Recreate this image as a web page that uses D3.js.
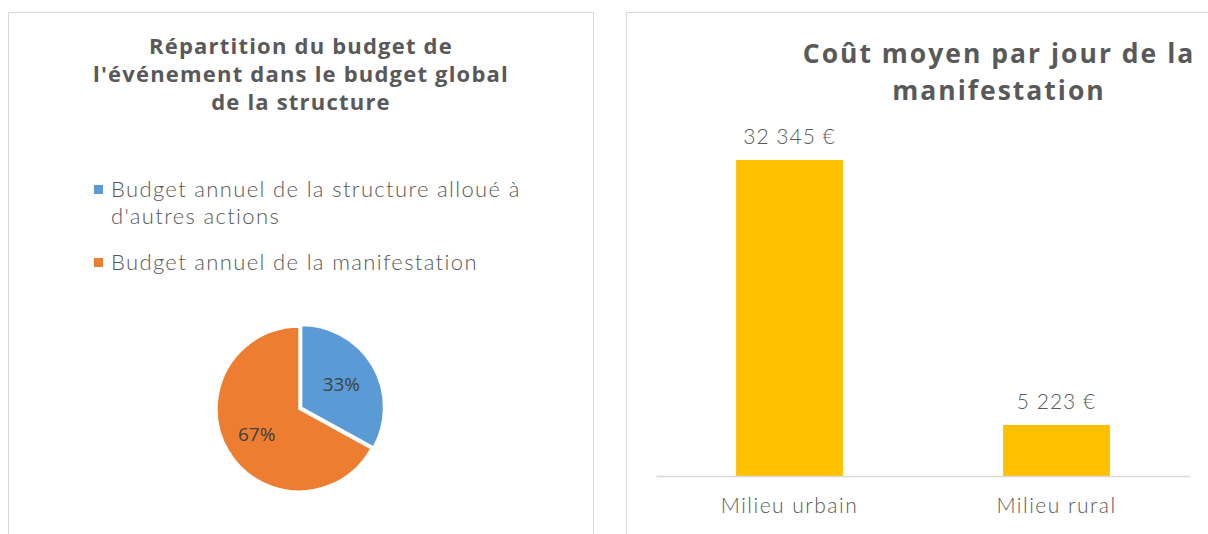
<!DOCTYPE html>
<html>
<head>
<meta charset="utf-8">
<script src="https://cdn.jsdelivr.net/npm/d3@7"></script>
<style>
  body { margin: 0; background: #fff; }
  svg { display: block; }
</style>
</head>
<body>
<svg id="chart" width="1208" height="534"></svg>
<script>
// données camembert
const pieLabels = ["Budget annuel de la structure alloué à d'autres actions", "Budget annuel de la manifestation"];
const pieValues = [33, 67];
const pieColors = ["#5b9bd5", "#ed7d31"];

// données histogramme
const barCategories = ["Milieu urbain", "Milieu rural"];
const barValues = [32345, 5223];
const barLabels = ["32 345 €", "5 223 €"];

const svg = d3.select("#chart");
const grey = "#595959";
const titleFont = "'Open Sans', sans-serif";
const lightFont = "Lato, sans-serif";

// cadres
svg.append("rect").attr("x", 8.5).attr("y", 12.5).attr("width", 585).attr("height", 540)
  .attr("fill", "none").attr("stroke", "#d9d9d9");
svg.append("rect").attr("x", 626.5).attr("y", 12.5).attr("width", 600).attr("height", 540)
  .attr("fill", "none").attr("stroke", "#d9d9d9");

// ---- panneau gauche ----
const left = svg.append("g");
const t1 = ["Répartition du budget de", "l'événement dans le budget global", "de la structure"];
left.selectAll("text.title").data(t1).join("text")
  .attr("class", "title")
  .attr("x", 301).attr("y", (d, i) => 54 + i * 28)
  .attr("text-anchor", "middle")
  .style("font-family", titleFont).style("font-weight", 700)
  .style("font-size", "22px").style("letter-spacing", "1.2px").style("fill", grey)
  .text(d => d);

// légende
const legendLines = [["Budget annuel de la structure alloué à", "d'autres actions"], ["Budget annuel de la manifestation"]];
const legendY = [197, 270];
legendLines.forEach((lines, i) => {
  left.append("rect").attr("x", 94).attr("y", legendY[i] - 12).attr("width", 9).attr("height", 9)
    .attr("fill", pieColors[i]);
  lines.forEach((l, j) => {
    left.append("text").attr("x", 111).attr("y", legendY[i] + j * 27)
      .style("font-family", lightFont).style("font-weight", 300)
      .style("font-size", "22px").style("letter-spacing", "1.35px").style("fill", grey)
      .text(l);
  });
});

// camembert
const pie = d3.pie().sort(null).value(d => d)(pieValues);
const R = 82;
const arc = d3.arc().innerRadius(0).outerRadius(R);
const pg = left.append("g").attr("transform", "translate(299,409)");
pg.selectAll("path").data(pie).join("path")
  .attr("transform", (d, i) => {
    if (i !== 0) return null;
    const c = arc.centroid(d), k = 3 / Math.hypot(c[0], c[1]);
    return `translate(${c[0] * k},${c[1] * k})`;
  })
  .attr("d", arc)
  .attr("fill", (d, i) => pieColors[i])
  .attr("stroke", "#fff").attr("stroke-width", 1.5);

const labelArc = d3.arc().innerRadius(R * 0.6).outerRadius(R * 0.6);
pg.selectAll("text").data(pie).join("text")
  .attr("transform", d => `translate(${labelArc.centroid(d)})`)
  .attr("text-anchor", "middle").attr("dy", "0.35em")
  .style("font-family", "'Open Sans', sans-serif").style("font-size", "19px")
  .style("fill", "#404040")
  .text(d => d.data + "%");

// ---- panneau droit ----
const right = svg.append("g");
const t2 = ["Coût moyen par jour de la", "manifestation"];
right.selectAll("text.title").data(t2).join("text")
  .attr("class", "title")
  .attr("x", 999).attr("y", (d, i) => 63 + i * 36.5)
  .attr("text-anchor", "middle")
  .style("font-family", titleFont).style("font-weight", 700)
  .style("font-size", "26.5px").style("letter-spacing", "2px").style("fill", grey)
  .text(d => d);

const x = d3.scaleBand().domain(barCategories).range([656, 1190]).paddingInner(0.6).paddingOuter(0.3);
const y = d3.scaleLinear().domain([0, 35000]).range([476, 134]);

right.selectAll("rect.bar").data(barValues).join("rect")
  .attr("class", "bar")
  .attr("x", (d, i) => x(barCategories[i]))
  .attr("width", x.bandwidth())
  .attr("y", d => y(d))
  .attr("height", d => y(0) - y(d))
  .attr("fill", "#ffc000");

right.selectAll("text.val").data(barValues).join("text")
  .attr("class", "val")
  .attr("x", (d, i) => x(barCategories[i]) + x.bandwidth() / 2)
  .attr("y", d => y(d) - 16)
  .attr("text-anchor", "middle")
  .style("font-family", lightFont).style("font-weight", 300)
  .style("font-size", "21px").style("letter-spacing", "1px").style("fill", grey)
  .text((d, i) => barLabels[i]);

const axis = right.append("g").attr("transform", `translate(0,${y(0)})`)
  .call(d3.axisBottom(x).tickSize(0).tickPadding(22));
axis.select(".domain").attr("stroke", "#d9d9d9").attr("stroke-width", 1.5);
axis.selectAll("text")
  .style("font-family", lightFont).style("font-weight", 300)
  .style("font-size", "21px").style("letter-spacing", "1.5px").style("fill", grey);
</script>
</body>
</html>
